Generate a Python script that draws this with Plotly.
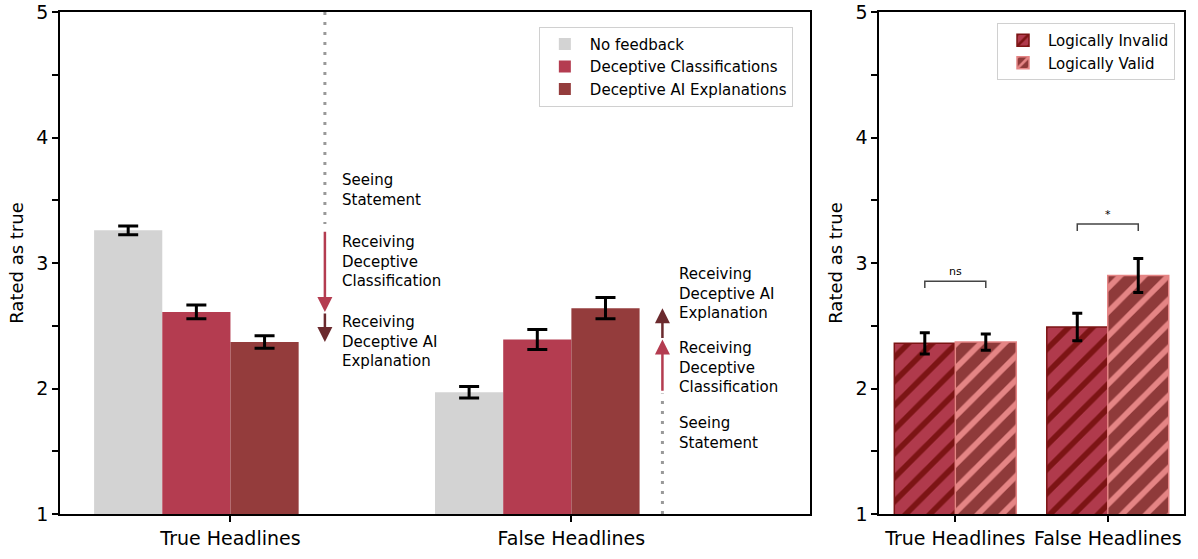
import plotly.graph_objects as go

# ---------------- data ----------------
categories = ["True Headlines", "False Headlines"]
conditions = ["No feedback", "Deceptive Classifications", "Deceptive AI Explanations"]
no_feedback = [3.26, 1.97]
no_feedback_err = [0.035, 0.045]
decept_class = [2.61, 2.39]
decept_class_err = [0.055, 0.08]
decept_expl = [2.37, 2.64]
decept_expl_err = [0.05, 0.085]

logic_groups = ["Logically Invalid", "Logically Valid"]
invalid_vals = [2.36, 2.49]
invalid_err = [0.085, 0.11]
valid_vals = [2.37, 2.90]
valid_err = [0.065, 0.135]

y_ticks = [1, 2, 3, 4, 5]
sig_labels = ["ns", "*"]

# ---------------- style ----------------
FONT = "DejaVu Sans"
GRAY = "#d3d3d3"
RED = "#b43c50"
DARK = "#943c3c"
DARK_ARROW = "#6b2a2e"
xpos = list(range(len(categories)))

fig = go.Figure()

left_series = [
    (conditions[0], no_feedback, no_feedback_err, GRAY, -0.4),
    (conditions[1], decept_class, decept_class_err, RED, -0.2),
    (conditions[2], decept_expl, decept_expl_err, DARK, 0.0),
]
for name, vals, errs, col, off in left_series:
    fig.add_trace(go.Bar(
        x=xpos, y=vals, name=name, width=0.2, offset=off,
        marker=dict(color=col, line=dict(width=0)),
        error_y=dict(type="data", array=errs, color="black", thickness=3, width=10),
        xaxis="x", yaxis="y", legend="legend",
    ))

right_series = [
    (logic_groups[0], invalid_vals, invalid_err, "#b03a4c", "#7c1414", "#7c1414", -0.4),
    (logic_groups[1], valid_vals, valid_err, "#8f3a3a", "#e58585", "#e58585", 0.0),
]
for name, vals, errs, bg, fg, edge, off in right_series:
    fig.add_trace(go.Bar(
        x=xpos, y=vals, name=name, width=0.4, offset=off,
        marker=dict(color=bg, line=dict(width=1.5, color=edge),
                    pattern=dict(shape="/", bgcolor=bg, fgcolor=fg, size=17,
                                 solidity=0.33, fillmode="replace")),
        error_y=dict(type="data", array=errs, color="black", thickness=3, width=5),
        xaxis="x2", yaxis="y2", legend="legend2",
    ))

axis_common = dict(showline=True, linecolor="black", linewidth=1.5, mirror=True,
                   ticks="outside", ticklen=6, tickwidth=1.5, tickcolor="black",
                   showgrid=False, zeroline=False, ticklabeloverflow="allow",
                   tickfont=dict(family=FONT, size=19, color="black"))

yaxis_common = dict(axis_common, range=[1, 5], tickvals=y_ticks,
                    minor=dict(dtick=0.5, ticks="outside", ticklen=6, tickwidth=1.5,
                               tickcolor="black", showgrid=False),
                    title=dict(text="Rated as true", standoff=8,
                               font=dict(family=FONT, size=18, color="black")),
                    automargin=False)

fig.update_layout(
    width=1198, height=559,
    margin=dict(l=60, r=14, t=10, b=40),
    paper_bgcolor="white", plot_bgcolor="white",
    barmode="overlay",
    font=dict(family=FONT, color="black"),
    xaxis=dict(axis_common, domain=[0, 0.6673], range=[-0.5, 1.7],
               tickvals=xpos, ticktext=categories, anchor="y"),
    yaxis=dict(yaxis_common, anchor="x"),
    xaxis2=dict(axis_common, domain=[0.7287, 1], range=[-0.5, 1.5],
                tickvals=xpos, ticktext=categories, anchor="y2"),
    yaxis2=dict(yaxis_common, anchor="x2"),
    legend=dict(x=0.652, y=0.9705, xanchor="right", yanchor="top",
                bgcolor="white", bordercolor="#d0d0d0", borderwidth=1,
                itemwidth=40,
                font=dict(family=FONT, size=15, color="black"), tracegroupgap=0),
    legend2=dict(x=0.992, y=0.978, xanchor="right", yanchor="top",
                 bgcolor="white", bordercolor="#d0d0d0", borderwidth=1,
                 itemwidth=40,
                 font=dict(family=FONT, size=15, color="black")),
    showlegend=True,
)

# ---------------- left panel annotations ----------------
g1x = xpos[0] + 0.277
fig.add_shape(type="line", xref="x", yref="y", x0=g1x, x1=g1x, y0=5, y1=3.31,
              line=dict(color="#999999", width=3, dash="3px,7px"))
fig.add_annotation(xref="x", yref="y", axref="x", ayref="y", x=g1x, y=decept_class[0],
                   ax=g1x, ay=no_feedback[0], text="", showarrow=True, arrowhead=2,
                   arrowsize=1.2, arrowwidth=2.5, arrowcolor=RED)
fig.add_annotation(xref="x", yref="y", axref="x", ayref="y", x=g1x, y=decept_expl[0],
                   ax=g1x, ay=decept_class[0], text="", showarrow=True, arrowhead=2,
                   arrowsize=1.2, arrowwidth=2.5, arrowcolor=DARK_ARROW)

g2x = xpos[1] + 0.267
fig.add_shape(type="line", xref="x", yref="y", x0=g2x, x1=g2x, y0=1, y1=1.96,
              line=dict(color="#999999", width=3, dash="3px,7px"))
fig.add_annotation(xref="x", yref="y", axref="x", ayref="y", x=g2x, y=decept_class[1],
                   ax=g2x, ay=no_feedback[1], text="", showarrow=True, arrowhead=2,
                   arrowsize=1.2, arrowwidth=2.5, arrowcolor=RED)
fig.add_annotation(xref="x", yref="y", axref="x", ayref="y", x=g2x, y=decept_expl[1],
                   ax=g2x, ay=decept_class[1], text="", showarrow=True, arrowhead=2,
                   arrowsize=1.2, arrowwidth=2.5, arrowcolor=DARK_ARROW)

step_texts = ["Seeing<br>Statement", "Receiving<br>Deceptive<br>Classification",
              "Receiving<br>Deceptive AI<br>Explanation"]
left_text_y = [3.585, 3.01, 2.375]
right_text_y = [1.647, 2.17, 2.76]
for txt, yy in zip(step_texts, left_text_y):
    fig.add_annotation(xref="x", yref="y", x=xpos[0] + 0.32, y=yy, text=txt,
                       showarrow=False, xanchor="left", yanchor="middle", align="left",
                       font=dict(family=FONT, size=15, color="black"))
for txt, yy in zip(step_texts, right_text_y):
    fig.add_annotation(xref="x", yref="y", x=xpos[1] + 0.31, y=yy, text=txt,
                       showarrow=False, xanchor="left", yanchor="middle", align="left",
                       font=dict(family=FONT, size=15, color="black"))

# ---------------- right panel significance brackets ----------------
bracket_y = [2.855, 3.31]
for i, (lab, by) in enumerate(zip(sig_labels, bracket_y)):
    xl, xr = xpos[i] - 0.2, xpos[i] + 0.2
    fig.add_shape(type="path", xref="x2", yref="y2",
                  path=f"M{xl},{by-0.055} L{xl},{by} L{xr},{by} L{xr},{by-0.055}",
                  line=dict(color="#444444", width=1.5))
    fig.add_annotation(xref="x2", yref="y2", x=xpos[i], y=by, text=lab,
                       showarrow=False, yanchor="bottom", yshift=1,
                       font=dict(family=FONT, size=11, color="black"))

fig.write_html("out.html", config={"displayModeBar": False},
               post_script="document.body.style.margin='0';")
